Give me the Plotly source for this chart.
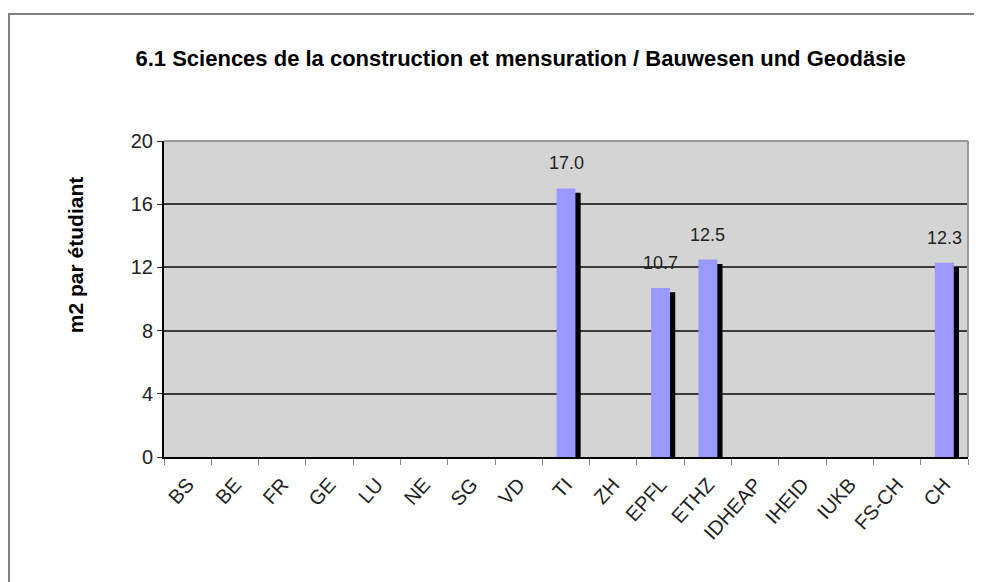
import plotly.graph_objects as go

categories = ["BS", "BE", "FR", "GE", "LU", "NE", "SG", "VD", "TI", "ZH",
              "EPFL", "ETHZ", "IDHEAP", "IHEID", "IUKB", "FS-CH", "CH"]
values = [None, None, None, None, None, None, None, None, 17.0, None,
          10.7, 12.5, None, None, None, None, 12.3]
y_ticks = [0, 4, 8, 12, 16, 20]

FONT = "Liberation Sans, Arial, Helvetica, sans-serif"
SHADOW_DROP = 0.28

fig = go.Figure()
# shadow bars (3D effect)
fig.add_trace(go.Bar(
    x=categories,
    y=[(v - SHADOW_DROP) if v is not None else None for v in values],
    width=0.40, offset=-0.09,
    marker=dict(color="black", line=dict(width=0)),
    hoverinfo="skip", showlegend=False,
))
fig.add_trace(go.Bar(
    x=categories, y=values,
    width=0.40, offset=-0.20,
    marker=dict(color="#9999ff", line=dict(width=0)),
    showlegend=False,
))

for c, v in zip(categories, values):
    if v is not None:
        fig.add_annotation(x=c, y=v, text=f"{v:.1f}", showarrow=False,
                           yanchor="bottom", yshift=13,
                           font=dict(family=FONT, size=18, color="#222"))

fig.add_annotation(xref="paper", yref="paper", x=-0.127, y=0.64,
                   text="<b>m2 par étudiant</b>", textangle=-90, showarrow=False,
                   font=dict(family=FONT, size=21, color="black"))

# outer chart frame
fig.add_shape(type="rect", xref="paper", yref="paper",
              x0=-0.1928, y0=-0.6, x1=1.2, y1=1.402,
              line=dict(color="#808080", width=2), layer="below")

fig.update_layout(
    width=982, height=582,
    margin=dict(l=156, r=22, t=133, b=133),
    paper_bgcolor="white", plot_bgcolor="#d4d4d4",
    barmode="overlay",
    title=dict(text="<b>6.1 Sciences de la construction et mensuration / Bauwesen und Geodäsie</b>",
               x=0.522, xref="container", xanchor="center",
               y=0.914, yref="container", yanchor="middle",
               font=dict(family=FONT, size=22, color="black")),
    font=dict(family=FONT, size=19, color="#222"),
    xaxis=dict(type="category", tickangle=-48, tickson="boundaries",
               ticks="outside", ticklen=6, tickcolor="#888", ticklabelstandoff=6,
               showline=True, linecolor="black", linewidth=2, mirror=False,
               showgrid=False, tickfont=dict(family=FONT, size=20, color="#222"),
               range=[-0.5, 16.5]),
    yaxis=dict(range=[0, 20], tickvals=y_ticks, ticks="outside", ticklen=5,
               tickcolor="#333", showline=True, linecolor="black", linewidth=2,
               showgrid=True, gridcolor="#3a3a3a", gridwidth=1.8, zeroline=False,
               tickfont=dict(family=FONT, size=20, color="#222")),
)
# top and right plot border (lighter grey)
fig.add_shape(type="line", xref="paper", yref="paper", x0=0, y0=1, x1=1, y1=1,
              line=dict(color="#999", width=2))
fig.add_shape(type="line", xref="paper", yref="paper", x0=1, y0=0, x1=1, y1=1,
              line=dict(color="#999", width=2))

fig.write_html("out.html")
